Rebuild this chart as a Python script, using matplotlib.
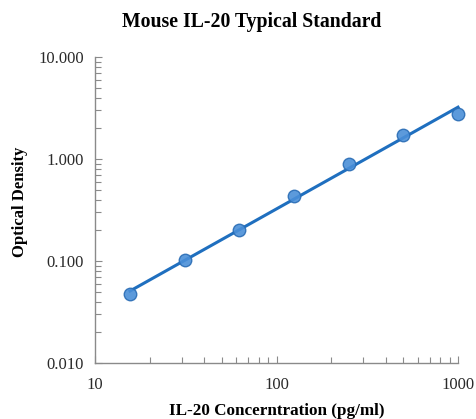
import numpy as np
import matplotlib
matplotlib.use("Agg")
import matplotlib.pyplot as plt
from matplotlib.ticker import LogLocator, FixedLocator, FixedFormatter, NullFormatter

conc = [15.6, 31.25, 62.5, 125, 250, 500, 1000]
od = [0.047, 0.103, 0.200, 0.434, 0.887, 1.72, 2.78]
x_ticks = [10, 100, 1000]
x_labels = ["10", "100", "1000"]
y_ticks = [0.01, 0.1, 1, 10]
y_labels = ["0.010", "0.100", "1.000", "10.000"]

fig = plt.figure(figsize=(4.77, 4.19), dpi=100)
ax = fig.add_axes([95/477, 1-363/419, (458-95)/477, (363-57)/419])
ax.set_xscale("log")
ax.set_yscale("log")
ax.set_xlim(10, 1000)
ax.set_ylim(0.01, 10)

lx = np.log10(conc)
ly = np.log10(od)
k, b = np.polyfit(lx, ly, 1)
xf = np.array([conc[0], conc[-1]])
yf = 10 ** (k * np.log10(xf) + b)
ax.plot(xf, yf, color="#1f6fbf", lw=2.2, zorder=2, clip_on=False)
ax.plot(conc, od, 'o', ms=9, mfc="#4a8fd8", mec="#2a6db5", mew=1, alpha=0.9, zorder=3, clip_on=False)

serif = ["Liberation Serif", "DejaVu Serif"]
for s in ["top", "right"]:
    ax.spines[s].set_visible(False)
for s in ["left", "bottom"]:
    ax.spines[s].set_color("#8a8a8a")
    ax.spines[s].set_linewidth(1.0)

ax.xaxis.set_major_locator(FixedLocator(x_ticks))
ax.xaxis.set_major_formatter(FixedFormatter(x_labels))
ax.yaxis.set_major_locator(FixedLocator(y_ticks))
ax.yaxis.set_major_formatter(FixedFormatter(y_labels))
ax.xaxis.set_minor_locator(LogLocator(base=10, subs=np.arange(2, 10)))
ax.yaxis.set_minor_locator(LogLocator(base=10, subs=np.arange(2, 10)))
ax.xaxis.set_minor_formatter(NullFormatter())
ax.yaxis.set_minor_formatter(NullFormatter())
ax.tick_params(which="both", direction="in", color="#8a8a8a", width=0.8)
ax.tick_params(which="major", length=5)
ax.tick_params(which="minor", length=4)
ax.tick_params(axis="x", which="major", pad=10)
ax.tick_params(axis="y", which="major", pad=8)
for lab in ax.get_xticklabels() + ax.get_yticklabels():
    lab.set_family(serif)
    lab.set_fontsize(12)
    lab.set_color("#2a2a2a")

ax.set_xlabel("IL-20 Concerntration (pg/ml)", family=serif, fontweight="bold", fontsize=12.3, labelpad=7)
fig.text(20/477, 1-202/419, "Optical Density", family=serif, fontweight="bold",
         fontsize=12, rotation=90, ha="center", va="center")
fig.text(252/477, 1-22/419, "Mouse IL-20 Typical Standard", family=serif, fontweight="bold",
         fontsize=14.2, ha="center", va="center")

fig.savefig("out.png", dpi=100, facecolor="white")
